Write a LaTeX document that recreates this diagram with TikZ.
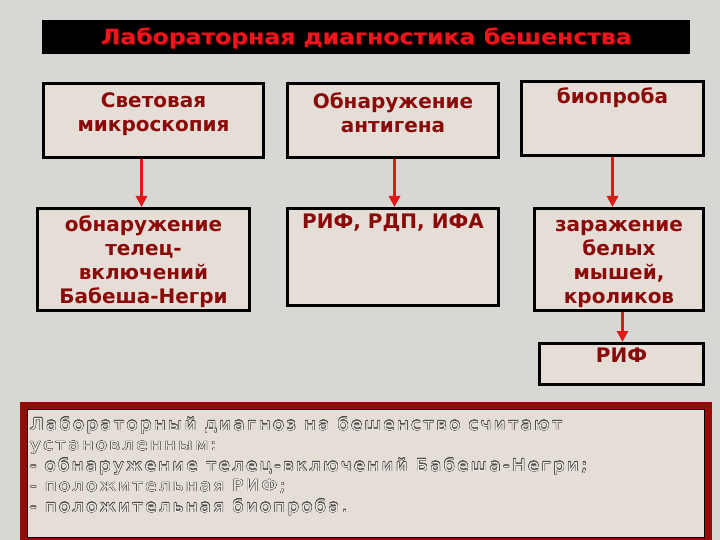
\documentclass[tikz,border=0pt]{standalone}
\usepackage{fontspec}
\setmainfont{DejaVu Sans}
\newfontfamily\titlefont[FakeStretch=1.12]{DejaVu Sans}
\newfontfamily\notefont[LetterSpace=14,FakeStretch=1.1]{DejaVu Sans}
\usepackage[copies]{contour}
\contournumber{16}
\contourlength{0.35pt}
\usetikzlibrary{arrows.meta,calc}
\definecolor{bg}{HTML}{D9D7D3}
\definecolor{boxfill}{HTML}{E4DED6}
\definecolor{maroon}{HTML}{8A0A0A}
\definecolor{titlered}{HTML}{F0141C}
\definecolor{titleshadow}{HTML}{6A0000}
\definecolor{arrred}{HTML}{E01818}
\definecolor{frame}{HTML}{960A0A}
\definecolor{noteink}{HTML}{4A4846}
\definecolor{notefill}{HTML}{EEEAE5}
\newcommand{\nl}[1]{\contour{noteink}{\textcolor{notefill}{#1}}}
\tikzset{
  box/.style={draw=black, line width=3pt, fill=boxfill, inner sep=0pt},
  boxtext/.style={anchor=north, align=center, text=maroon, font=\bfseries\fontsize{20}{24}\selectfont, inner sep=0pt},
  arr/.style={draw=arrred, line width=3.5pt, -{Triangle[length=11pt,width=11pt]}},
  notetext/.style={anchor=north west, align=left, font=\notefont\fontsize{16.5}{20.5}\selectfont, inner sep=0pt},
  titletxt/.style={font=\titlefont\bfseries\fontsize{21}{24}\selectfont, inner sep=0pt}
}
\begin{document}
\begin{tikzpicture}[x=1pt,y=-1pt]
\useasboundingbox (0,0) rectangle (720,540);
\fill[bg] (0,0) rectangle (720,540);
% title
\node[fill=black, minimum width=648pt, minimum height=34pt, inner sep=0pt, anchor=north west] (title) at (42,20) {};
\node[titletxt, text=titleshadow] (titleshadow) at ([shift={(1pt,-2pt)}]title.center) {Лабораторная диагностика бешенства};
\node[titletxt, text=titlered] (titletext) at ([yshift=-1pt]title.center) {Лабораторная диагностика бешенства};
% top boxes
\node[box, minimum width=220pt, minimum height=74pt, anchor=north west] (b1) at (42,82) {};
\node[box, minimum width=211pt, minimum height=74pt, anchor=north west] (b2) at (286,82) {};
\node[box, minimum width=182pt, minimum height=74pt, anchor=north west] (b3) at (520,80) {};
\node[boxtext] (t1) at ([yshift=-10pt]b1.north) {Световая\\микроскопия};
\node[boxtext] (t2) at ([yshift=-10pt]b2.north) {Обнаружение\\антигена};
\node[boxtext] (t3) at ([yshift=-7.5pt]b3.north) {биопроба};
% second row
\node[box, minimum width=212pt, minimum height=102pt, anchor=north west] (b4) at (36,207) {};
\node[box, minimum width=211pt, minimum height=97pt, anchor=north west] (b5) at (286,207) {};
\node[box, minimum width=169pt, minimum height=102pt, anchor=north west] (b6) at (533,207) {};
\node[boxtext] (t4) at ([yshift=-8.5pt]b4.north) {обнаружение\\телец-\\включений\\Бабеша-Негри};
\node[boxtext] (t5) at ([yshift=-7pt]b5.north) {РИФ, РДП, ИФА};
\node[boxtext] (t6) at ([yshift=-13.5pt]b6.north) {заражение\\белых\\мышей,\\кроликов};
% third row
\node[box, minimum width=164pt, minimum height=41pt, anchor=north west] (b7) at (538,342) {};
\node[boxtext] (t7) at ([yshift=-6pt]b7.north) {РИФ};
% arrows
\draw[arr] ([xshift=-12pt]b1.south) -- ([xshift=-12pt]b1.south |- b4.north);
\draw[arr] ([xshift=1.5pt]b2.south) -- ([xshift=1.5pt]b2.south |- b5.north);
\draw[arr] (b3.south) -- (b3.south |- b6.north);
\draw[arr] ([xshift=3.5pt]b6.south) -- ([xshift=3.5pt]b6.south |- b7.north);
% bottom note
\node[draw=frame, line width=7pt, fill=boxfill, minimum width=685pt, minimum height=136pt, anchor=north west, inner sep=0pt] (note) at (20,402) {};
\draw[black, line width=0.8pt] ([shift={(7.5pt,-7.5pt)}]note.north west) rectangle ([shift={(-7.5pt,7.5pt)}]note.south east);
\node[notetext] (nt) at ([shift={(10pt,-15pt)}]note.north west) {\nl{Лабораторный диагноз на бешенство считают}\\\nl{установленным:}\\\nl{- обнаружение телец-включений Бабеша-Негри;}\\\nl{- положительная РИФ;}\\\nl{- положительная биопроба.}};
\end{tikzpicture}
\end{document}
